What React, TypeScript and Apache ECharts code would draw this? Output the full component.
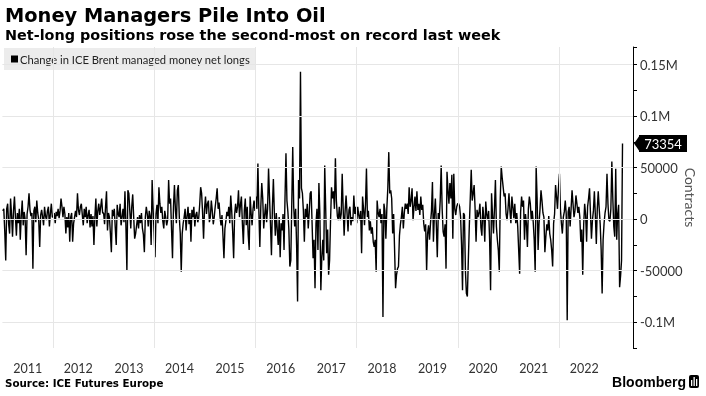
import React, { useEffect, useRef } from "react";
import * as echarts from "echarts";

// Weekly change in ICE Brent managed-money net longs, thousands of contracts
const v2011 = [8, 10, -12, -40, 10, 15, -5, -14, 20, 4, -17, 8, 22, 2, -16, 6, -4, 10, -20, 3, 18, -6, 7, 0, -35, 5, 12, 25, 9, 3, 6, -48, 8, 12, -3, 18, 6, -1, -27, 4, 9, 2, -6, 12, 3, -1, 8, 12, -7, 5, 15, 2];
const v2012 = [2, 6, -4, 7, 3, 10, 1, 8, 20, 12, 2, 12, 5, -14, 2, -8, 6, -22, 2, 6, -22, -4, 2, 8, 2, 25, 9, 4, 12, 15, 4, -6, 10, 2, 12, -4, 4, 9, -8, 5, -7, 3, -25, 2, 20, -7, 8, 15, 4, 12, 20, 6];
const v2013 = [6, -5, 12, 27, -11, 6, 2, -14, -32, 9, 3, 10, -8, -25, 14, 5, 2, 15, -6, 2, 10, -3, 27, -7, -50, 28, 25, 8, -9, 12, 24, 2, -19, -14, -6, 2, -9, 4, -4, 6, -9, -15, -32, 2, 12, 5, -7, 8, 3, -25, 38, 10, -12];
const v2014 = [-37, 5, 14, -4, 31, 15, 6, 12, -2, -9, 8, 2, -6, -1, 38, 15, 20, -10, -38, 12, 33, 9, -4, 28, 33, 2, -14, -51, -14, -4, 2, 10, -11, 3, 12, -5, 6, -22, 9, 2, 12, -7, 4, 7, -3, 1, 14, 31, 25, 6, -19, 10];
const v2015 = [22, 5, 15, 18, -3, 2, 18, 8, -5, 2, 12, 20, 30, 10, 16, 2, -6, 4, -16, -38, -9, -2, 7, 3, 12, -4, 23, 8, -12, -38, 4, 15, 6, 12, 28, 2, 14, 22, -4, -24, 8, 20, -6, 12, -15, -30, 22, 6, -6, 10, 18, 8];
const v2016 = [22, 10, 54, 8, -27, 12, 35, 20, -9, 4, 15, -3, 10, 49, 22, -5, -35, 12, 39, 6, -16, 6, -10, -25, 2, -37, -4, -11, 5, -30, 20, 64, 18, 7, -10, -46, -40, 15, 70, 12, -7, 10, -25, -80, 38, 20, 143, 30, 25, 8, -22, 10];
const v2017 = [2, 15, -9, 6, 25, 27, -5, -38, -20, -67, -4, 10, -30, 35, 5, -69, -37, -20, -40, 52, 10, -33, -10, -54, -40, -1, 31, 20, 27, 10, 59, 18, 3, -1, 12, -1, 5, 44, 10, -16, 8, 23, 6, -12, 9, 12, -6, 2, -2, 23, 5, 12];
const v2018 = [-4, 12, 4, -1, 8, -33, 22, 10, -6, 14, 49, 2, 8, -11, -2, -14, -8, -22, -27, -20, -51, 18, 6, 2, 10, -4, 5, -95, 15, 8, -19, 10, 30, 65, 25, 28, 20, -14, 5, -30, -67, -54, -48, -46, -16, -5, 2, 12, -9, 6, 15, 10];
const v2019 = [15, 5, 31, 12, 18, 30, -1, 12, 22, 8, 27, 9, 15, 4, 22, 9, 14, -4, -12, -5, -50, -14, -6, -20, -4, 8, 36, -22, 5, 20, -5, -37, 6, 0, 18, 52, 10, -12, -17, -5, -48, 46, 28, 15, 35, 20, 43, -19, 44, 10, 4, 12, 15];
const v2020 = [15, 12, 2, -25, -69, 6, 4, -50, -72, -75, -40, -7, 20, 48, 18, 25, 33, 10, -22, 9, 2, 6, 15, -8, -16, 12, 2, -22, 17, 5, -1, 8, -20, -69, 25, 4, -14, 10, 38, -7, -20, -30, -51, 20, 51, 40, 31, 22, 25, 5, -1, 10];
const v2021 = [25, 8, -4, 22, 12, 1, 15, -4, 6, -7, -30, -53, 7, 22, 12, 18, -20, 5, -4, -27, 10, 22, 15, -1, 8, -3, -20, -51, 51, 20, -30, -4, 10, 28, 18, 6, 2, -32, -17, -5, -11, 3, -14, -20, -30, -46, -4, 5, 33, 22, 10, 30];
const v2022 = [44, 10, -4, -14, 2, 7, 18, 5, -98, 7, 12, -7, 10, 28, 15, 2, 8, 23, 15, 6, 12, 2, -22, -10, -54, -5, 15, 4, -22, 12, 20, 30, 5, -19, -1, 8, 27, 4, -24, 10, 27, 10, -5, -30, -72, -20, -4, 6, 12, 44, 15, -1];
const v2023 = [-2, 10, 56, 20, -7, -17, 49, -20, 5, 14, -66, -55, -40, 73.354];

const yearBlocks = [v2011, v2012, v2013, v2014, v2015, v2016, v2017, v2018, v2019, v2020, v2021, v2022, v2023];

const seriesName = "Change in ICE Brent managed money net longs";
const yearLabels = ["2011", "2012", "2013", "2014", "2015", "2016", "2017", "2018", "2019", "2020", "2021", "2022"];
const gridYears = [2012, 2014, 2016, 2018, 2020, 2022];
const gridValues = [-100, -50, 0, 50, 100, 150];
const yTickLabels: Record<string, string> = {
  "150": "0.15M",
  "100": "0.1M",
  "50": "50000",
  "0": "0",
  "-50": "-50000",
  "-100": "-0.1M",
};

const X_MIN = 2011;
const X_MAX = 2023.462;
const Y_MIN = -125;
const Y_MAX = 167;
const START = Date.UTC(2011, 0, 4);
const DAY = 86400000;

function yearFraction(t: number) {
  const d = new Date(t);
  const y = d.getUTCFullYear();
  const s = Date.UTC(y, 0, 1);
  const e = Date.UTC(y + 1, 0, 1);
  return y + (t - s) / (e - s);
}

export default function App() {
  const ref = useRef<HTMLDivElement>(null);

  useEffect(() => {
    if (!ref.current) return;
    const chart = echarts.init(ref.current, undefined, { renderer: "svg" });
    const values = yearBlocks.flat();
    const data = values.map((v, i) => [yearFraction(START + i * 7 * DAY), v]);
    const last = values[values.length - 1];

    chart.setOption({
      animation: false,
      grid: { left: 2.4, right: 73, top: 47, bottom: 48, containLabel: false, outerBoundsMode: "none" },
      legend: {
        data: [{ name: seriesName, icon: "rect" }],
        left: 4,
        top: 48,
        padding: [5, 6, 5, 7],
        itemWidth: 7,
        itemHeight: 7,
        itemGap: 0,
        backgroundColor: "#ececec",
        selectedMode: false,
        textStyle: { fontFamily: "Lato", fontSize: 11.2, color: "#222", lineHeight: 12, padding: [0, 0, 0, -3] },
      },
      xAxis: {
        type: "value",
        min: X_MIN,
        max: X_MAX,
        axisLine: { show: false },
        axisTick: { show: false },
        splitLine: { show: false },
        axisLabel: {
          customValues: yearLabels.map((y) => Number(y) + 0.5),
          formatter: (v: number) => String(Math.floor(v)),
          margin: 14,
          fontFamily: "Lato",
          fontSize: 12.5,
          color: "#333",
          hideOverlap: false,
        },
      },
      yAxis: {
        type: "value",
        position: "right",
        min: Y_MIN,
        max: Y_MAX,
        interval: 25,
        axisLine: { show: true, lineStyle: { color: "#000", width: 1 } },
        axisTick: { show: true, length: 4, lineStyle: { color: "#000" } },
        splitLine: { show: false },
        axisLabel: {
          margin: 7,
          fontFamily: "Lato",
          fontSize: 13,
          color: "#333",
          formatter: (v: number) => yTickLabels[String(Math.round(v))] ?? "",
        },
      },
      series: [
        {
          name: "grid",
          type: "line",
          data: [[X_MIN, 0]],
          symbol: "none",
          lineStyle: { opacity: 0 },
          silent: true,
          z: 1,
          markLine: {
            silent: true,
            symbol: ["none", "none"],
            label: { show: false },
            lineStyle: { color: "#e6e6e6", width: 1, type: "solid" },
            data: [
              ...gridYears.map((y) => ({ xAxis: y })),
              ...gridValues.map((v) => ({ yAxis: v })),
            ],
          },
        },
        {
          name: seriesName,
          type: "line",
          data,
          symbol: "none",
          showSymbol: false,
          color: "#000",
          lineStyle: { color: "#000", width: 1.4 },
          silent: true,
          z: 3,
        },
      ],
    });

    const py = chart.convertToPixel({ yAxisIndex: 0 }, last) as number;
    const ax = chart.convertToPixel({ xAxisIndex: 0 }, X_MAX) as number;
    const midY = chart.convertToPixel({ yAxisIndex: 0 }, (Y_MIN + Y_MAX) / 2) as number;

    chart.setOption({
      graphic: [
        {
          type: "text",
          x: 5,
          y: 15,
          style: { text: "Money Managers Pile Into Oil", fontFamily: "DejaVu Sans", fontWeight: "bold", fontSize: 19.4, fill: "#000", align: "left", verticalAlign: "middle" },
        },
        {
          type: "text",
          x: 5,
          y: 35,
          style: { text: "Net-long positions rose the second-most on record last week", fontFamily: "DejaVu Sans", fontWeight: "bold", fontSize: 14.4, fill: "#000", align: "left", verticalAlign: "middle" },
        },
        {
          type: "text",
          x: 690,
          y: midY,
          rotation: -Math.PI / 2,
          style: { text: "Contracts", fontFamily: "Lato", fontSize: 14, fill: "#555", align: "center", verticalAlign: "middle" },
        },
        {
          type: "text",
          x: 5,
          y: 383,
          style: { text: "Source: ICE Futures Europe", fontFamily: "DejaVu Sans", fontWeight: "bold", fontSize: 10.3, fill: "#000", align: "left", verticalAlign: "middle" },
        },
        {
          type: "text",
          x: 686,
          y: 382,
          style: { text: "Bloomberg", fontFamily: "Liberation Sans", fontWeight: "bold", fontSize: 14, fill: "#000", align: "right", verticalAlign: "middle" },
        },
        { type: "rect", shape: { x: 689, y: 375, width: 10, height: 13, r: 2 }, style: { fill: "#000" } },
        { type: "rect", shape: { x: 691, y: 380, width: 1.3, height: 6 }, style: { fill: "#fff" } },
        { type: "rect", shape: { x: 693.5, y: 377, width: 1.3, height: 9 }, style: { fill: "#fff" } },
        { type: "rect", shape: { x: 696, y: 379, width: 1.3, height: 7 }, style: { fill: "#fff" } },
        {
          type: "polygon",
          shape: { points: [[ax + 1, py], [ax + 7, py - 8.5], [ax + 7, py + 8.5]] },
          style: { fill: "#000" },
        },
        { type: "rect", shape: { x: ax + 6, y: py - 8.5, width: 48, height: 17 }, style: { fill: "#000" } },
        {
          type: "text",
          x: ax + 30,
          y: py,
          style: { text: String(Math.round(last * 1000)), fontFamily: "Lato", fontSize: 13, fill: "#fff", align: "center", verticalAlign: "middle" },
        },
      ],
    });

    return () => chart.dispose();
  }, []);

  return <div ref={ref} style={{ position: "fixed", left: 0, top: 0, width: 706, height: 396 }} />;
}
